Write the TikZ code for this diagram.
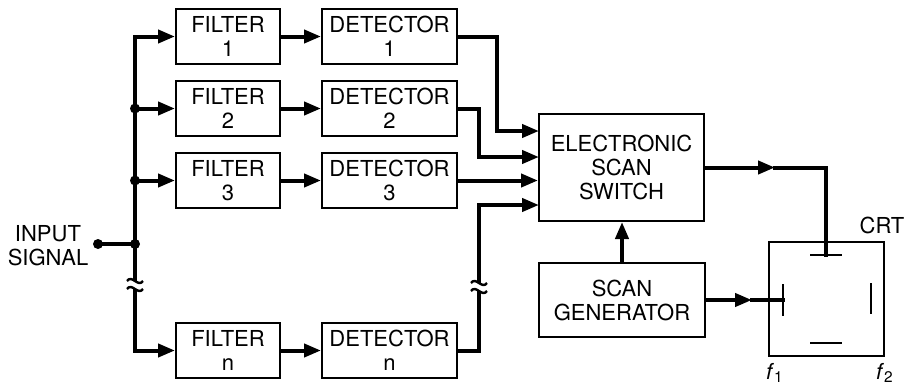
\documentclass[tikz,border=0pt]{standalone}
\usepackage{fontspec}
\setmainfont{TeX Gyre Heros}
\usetikzlibrary{arrows.meta,positioning}

\begin{document}
\begin{tikzpicture}[x=0.5pt,y=-0.5pt,
box/.style={draw,line width=1pt,minimum width=52pt,minimum height=27.5pt,inner sep=1pt,align=center,font=\fontsize{11}{12}\selectfont},
arr/.style={-{Triangle[length=8.5pt,width=6.5pt]},line width=2pt,line cap=rect},
wire/.style={line width=2pt,line cap=rect},
dot/.style={circle,fill,inner sep=0pt,minimum size=5pt},
plate/.style={line width=1pt}]
\useasboundingbox (0,0) rectangle (906,386);
% filter and detector chains
\node[box] (filt1) at (228,36.5) {FILTER\\1};
\node[box] (filt2) at (228,108.5) {FILTER\\2};
\node[box] (filt3) at (228,180.5) {FILTER\\3};
\node[box] (filtn) at (228,350.5) {FILTER\\n};
\node[box,minimum width=67.5pt,right=20pt of filt1] (det1) {DETECTOR\\1};
\node[box,minimum width=67.5pt,right=20pt of filt2] (det2) {DETECTOR\\2};
\node[box,minimum width=67.5pt,right=20pt of filt3] (det3) {DETECTOR\\3};
\node[box,minimum width=67.5pt,right=20pt of filtn] (detn) {DETECTOR\\n};
\node[box,minimum width=82.5pt,minimum height=53.5pt] (sw) at (621.5,167.5) {ELECTRONIC\\SCAN\\SWITCH};
\node[box,minimum width=83pt,minimum height=37pt] (gen) at (622,300) {SCAN\\GENERATOR};
\node[draw,line width=1pt,minimum width=57.5pt,minimum height=57pt] (crt) at (826.5,299) {};
\node[font=\fontsize{11}{12}\selectfont] (crtlbl) at (882,225) {CRT};
\node[font=\fontsize{11}{12}\selectfont] (f1) at (775,373) {\textit{f}\textsubscript{1}};
\node[font=\fontsize{11}{12}\selectfont] (f2) at (885,373) {\textit{f}\textsubscript{2}};
\node[align=center,font=\fontsize{11}{12}\selectfont] (input) at (48,246) {INPUT\\SIGNAL};
% input bus
\coordinate (b1) at (135,36.5); \coordinate (bn) at (135,350.5);
\node[dot] (in) at (98,244) {};
\node[dot] (t2) at (135,108.5) {}; \node[dot] (t3) at (135,180.5) {}; \node[dot] (tin) at (135,244) {};
\draw[wire] (b1)--(bn); \draw[wire] (in)--(tin);
\draw[arr] (b1)--(filt1); \draw[arr] (t2)--(filt2); \draw[arr] (t3)--(filt3); \draw[arr] (bn)--(filtn);
\draw[arr] (filt1)--(det1); \draw[arr] (filt2)--(det2); \draw[arr] (filt3)--(det3); \draw[arr] (filtn)--(detn);
% into the scan switch
\coordinate (s1) at (539,131); \coordinate (s2) at (539,157); \coordinate (s4) at (539,205);
\draw[arr] (det1.east) -| (497,131) -- (s1);
\draw[arr] (det2.east) -| (479,157) -- (s2);
\draw[arr] (det3.east) -- (det3.east -| sw.west);
\draw[arr] (detn.east) -| (479,205) -- (s4);
\foreach \bx/\by in {135/285,479/287}{
  \fill[white] (\bx-5,\by-4) rectangle (\bx+5,\by+4);
  \draw[line width=1.2pt] (\bx-8,\by-4) .. controls (\bx-3,\by-11) and (\bx+3,\by+3) .. (\bx+8,\by-4);
  \draw[line width=1.2pt] (\bx-8,\by+4) .. controls (\bx-3,\by-3) and (\bx+3,\by+11) .. (\bx+8,\by+4);
}
\draw[arr] (gen.north) -- (gen.north |- sw.south);
% CRT plates and drive
\coordinate (m1) at (775,167.5); \coordinate (tp) at (826,255);
\coordinate (m2) at (752,300); \coordinate (lp) at (783,300);
\draw[arr] (sw.east) -- (m1); \draw[wire] (m1) -| (tp);
\draw[arr] (gen.east) -- (m2); \draw[wire] (m2) -- (lp);
\draw[plate] (810,255) -- (842,255); \draw[plate] (810,343) -- (842,343);
\draw[plate] (783,284) -- (783,316); \draw[plate] (871,283) -- (871,314);
\end{tikzpicture}
\end{document}
